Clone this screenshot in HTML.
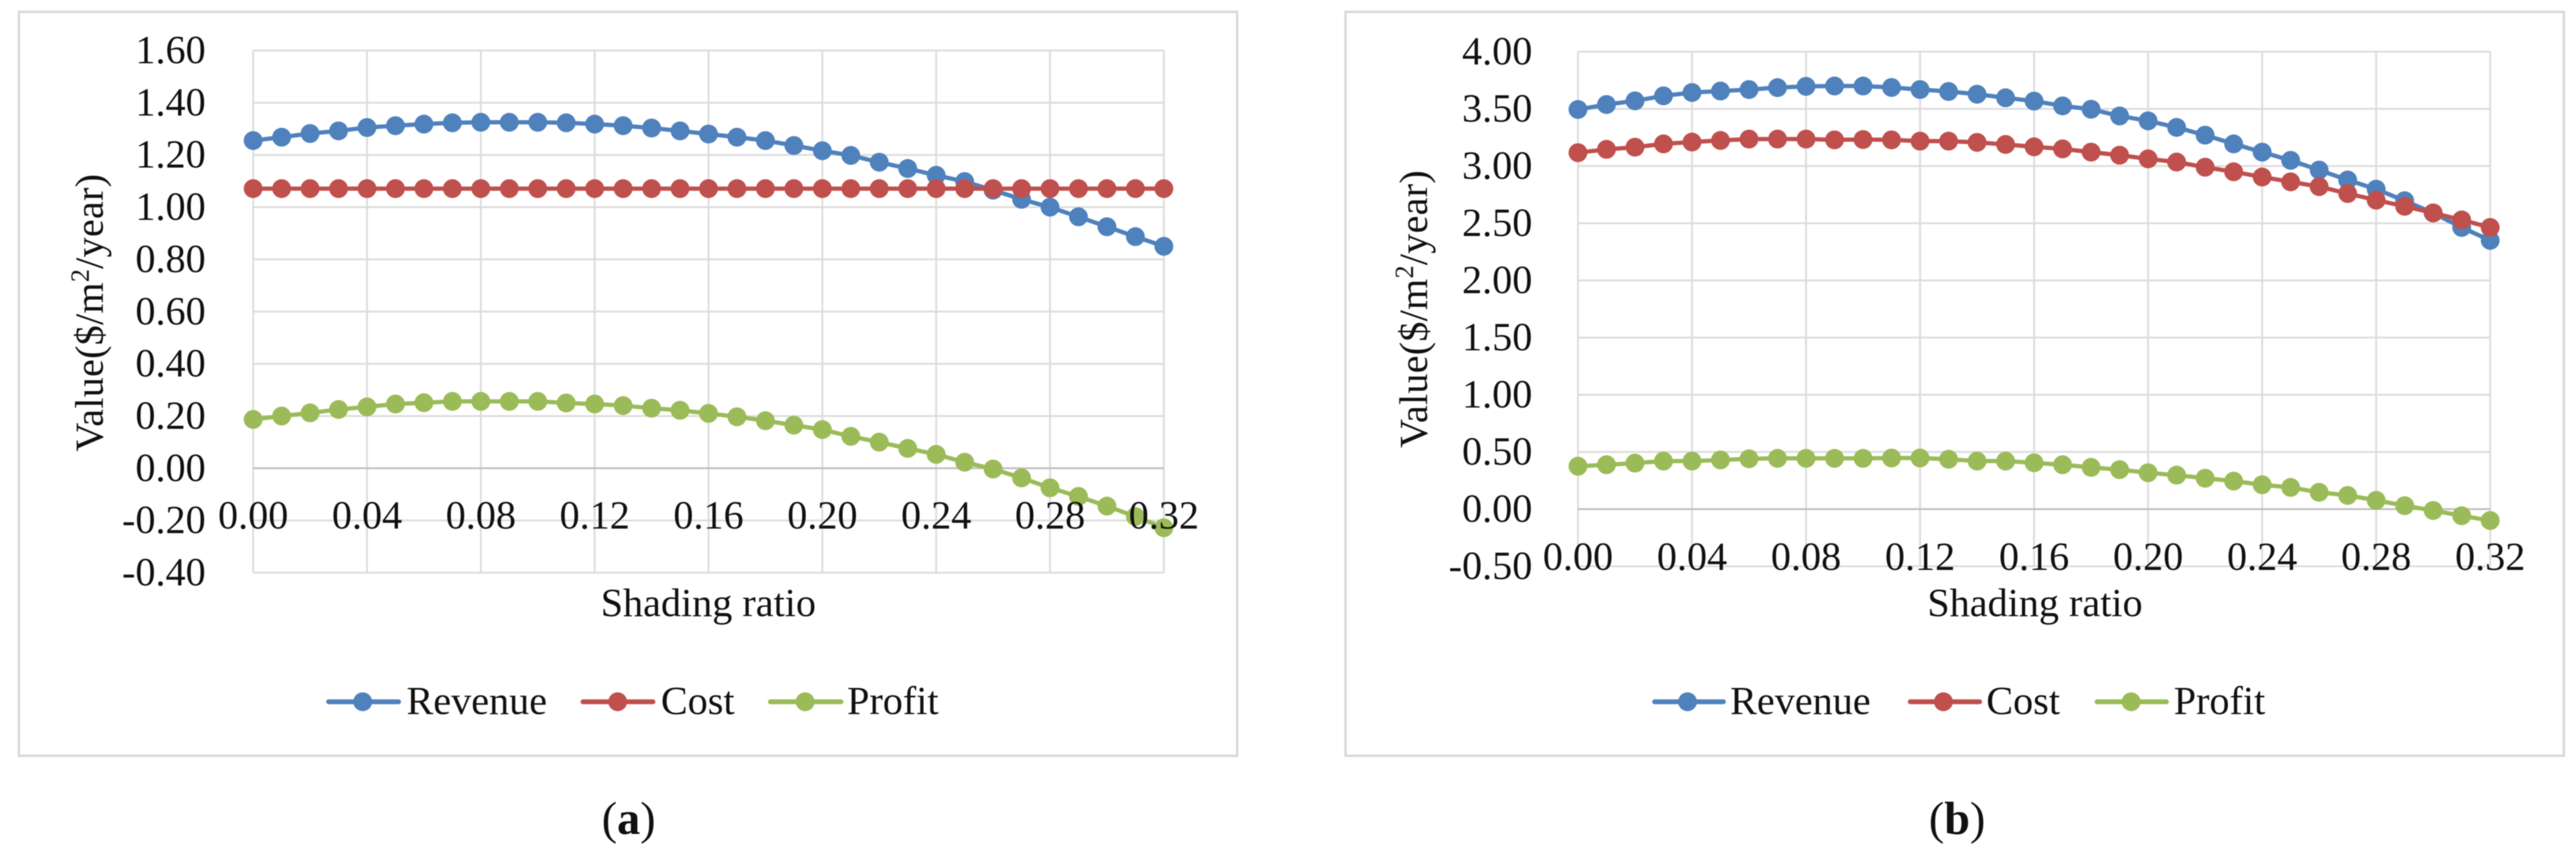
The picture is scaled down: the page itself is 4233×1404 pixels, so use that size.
<!DOCTYPE html>
<html lang="en">
<head>
<meta charset="utf-8">
<title>Revenue, cost and profit versus shading ratio</title>
<style>
  html, body { margin: 0; padding: 0; background: #ffffff; }
  body { width: 4233px; height: 1404px; overflow: hidden; }
  svg { display: block; filter: blur(0.8px); }
  text { font-family: "Liberation Serif", "Times New Roman", serif; fill: #111111; }
</style>
</head>
<body>
<svg id="figure" xmlns="http://www.w3.org/2000/svg" width="4233" height="1404" viewBox="0 0 4233 1404">
  <rect x="0" y="0" width="4233" height="1404" fill="#ffffff"/>

  <g id="panel-a">
    <rect x="31" y="19.5" width="2002" height="1223" fill="#ffffff" stroke="#d9d9d9" stroke-width="4"/>
    <g id="plot-a"></g>
    <text transform="translate(169,514) rotate(-90)" text-anchor="middle" font-size="66" letter-spacing="0.4">Value($/m<tspan font-size="43" dy="-23">2</tspan><tspan dy="23">/year)</tspan></text>
    <text x="1164" y="1013" text-anchor="middle" font-size="66">Shading ratio</text>
    <g>
      <g>
        <line x1="540" x2="655" y1="1153.7" y2="1153.7" stroke="#4f81bd" stroke-width="8" stroke-linecap="round"/>
        <circle cx="596" cy="1153.7" r="15.5" fill="#4f81bd"/>
        <text x="668" y="1174" font-size="66">Revenue</text>
      </g>
      <g>
        <line x1="958" x2="1073" y1="1153.7" y2="1153.7" stroke="#c0504d" stroke-width="8" stroke-linecap="round"/>
        <circle cx="1015" cy="1153.7" r="15.5" fill="#c0504d"/>
        <text x="1086" y="1174" font-size="66">Cost</text>
      </g>
      <g>
        <line x1="1266" x2="1382" y1="1153.7" y2="1153.7" stroke="#9bbb59" stroke-width="8" stroke-linecap="round"/>
        <circle cx="1323" cy="1153.7" r="15.5" fill="#9bbb59"/>
        <text x="1392" y="1174" font-size="66">Profit</text>
      </g>
    </g>
    <text x="1033" y="1371" text-anchor="middle" font-size="76">(<tspan font-weight="bold">a</tspan>)</text>
  </g>

  <g id="panel-b">
    <rect x="2211" y="19.5" width="2002" height="1223" fill="#ffffff" stroke="#d9d9d9" stroke-width="4"/>
    <g id="plot-b"></g>
    <text transform="translate(2345,508) rotate(-90)" text-anchor="middle" font-size="66" letter-spacing="0.4">Value($/m<tspan font-size="43" dy="-23">2</tspan><tspan dy="23">/year)</tspan></text>
    <text x="3344" y="1013" text-anchor="middle" font-size="66">Shading ratio</text>
    <g>
      <g>
        <line x1="2719" x2="2832" y1="1153.7" y2="1153.7" stroke="#4f81bd" stroke-width="8" stroke-linecap="round"/>
        <circle cx="2773" cy="1153.7" r="15.5" fill="#4f81bd"/>
        <text x="2843" y="1174" font-size="66">Revenue</text>
      </g>
      <g>
        <line x1="3139" x2="3253" y1="1153.7" y2="1153.7" stroke="#c0504d" stroke-width="8" stroke-linecap="round"/>
        <circle cx="3193.5" cy="1153.7" r="15.5" fill="#c0504d"/>
        <text x="3264" y="1174" font-size="66">Cost</text>
      </g>
      <g>
        <line x1="3446" x2="3560" y1="1153.7" y2="1153.7" stroke="#9bbb59" stroke-width="8" stroke-linecap="round"/>
        <circle cx="3502" cy="1153.7" r="15.5" fill="#9bbb59"/>
        <text x="3572" y="1174" font-size="66">Profit</text>
      </g>
    </g>
    <text x="3216" y="1371" text-anchor="middle" font-size="76">(<tspan font-weight="bold">b</tspan>)</text>
  </g>
</svg>

<script>
// Shared category axis
const shadingRatios = [0.00,0.01,0.02,0.03,0.04,0.05,0.06,0.07,0.08,0.09,0.10,0.11,0.12,0.13,0.14,0.15,0.16,0.17,0.18,0.19,0.20,0.21,0.22,0.23,0.24,0.25,0.26,0.27,0.28,0.29,0.30,0.31,0.32];
const xTickLabels = ["0.00","0.04","0.08","0.12","0.16","0.20","0.24","0.28","0.32"];

// Chart (a)
const yTickLabelsA = ["1.60","1.40","1.20","1.00","0.80","0.60","0.40","0.20","0.00","-0.20","-0.40"];
const revenueA = [1.255,1.268,1.282,1.292,1.305,1.312,1.318,1.323,1.325,1.325,1.325,1.323,1.318,1.312,1.303,1.292,1.280,1.268,1.255,1.236,1.216,1.198,1.172,1.148,1.122,1.098,1.065,1.030,1.000,0.963,0.925,0.887,0.850];
const costA = [1.071,1.071,1.071,1.071,1.071,1.071,1.071,1.071,1.071,1.071,1.071,1.071,1.071,1.071,1.071,1.071,1.071,1.071,1.071,1.071,1.071,1.071,1.071,1.071,1.071,1.071,1.071,1.071,1.071,1.071,1.071,1.071,1.071];
const profitA = [0.187,0.200,0.212,0.225,0.235,0.246,0.251,0.256,0.256,0.256,0.256,0.250,0.246,0.240,0.230,0.222,0.210,0.197,0.182,0.165,0.148,0.122,0.100,0.076,0.053,0.023,-0.003,-0.037,-0.075,-0.108,-0.145,-0.185,-0.228];

// Chart (b)
const yTickLabelsB = ["4.00","3.50","3.00","2.50","2.00","1.50","1.00","0.50","0.00","-0.50"];
const revenueB = [3.495,3.538,3.570,3.614,3.643,3.656,3.669,3.686,3.697,3.700,3.700,3.687,3.669,3.652,3.628,3.597,3.568,3.526,3.497,3.438,3.395,3.338,3.270,3.194,3.122,3.050,2.965,2.878,2.798,2.697,2.590,2.463,2.350];
const costB = [3.117,3.146,3.165,3.194,3.210,3.224,3.236,3.236,3.236,3.229,3.232,3.229,3.218,3.218,3.207,3.189,3.168,3.150,3.122,3.095,3.063,3.035,2.990,2.950,2.904,2.862,2.820,2.760,2.702,2.648,2.590,2.529,2.463];
const profitB = [0.375,0.388,0.402,0.420,0.420,0.430,0.440,0.444,0.444,0.444,0.444,0.447,0.447,0.436,0.420,0.420,0.405,0.388,0.365,0.345,0.318,0.297,0.270,0.245,0.213,0.190,0.147,0.120,0.077,0.030,-0.012,-0.058,-0.100];

const SVG_NS = 'http://www.w3.org/2000/svg';

function make(tag, parent, attrs) {
  const el = document.createElementNS(SVG_NS, tag);
  for (const k in attrs) el.setAttribute(k, attrs[k]);
  parent.appendChild(el);
  return el;
}

function drawChart(rootId, box, yLabels, seriesList) {
  const root = document.getElementById(rootId);
  const yNums = yLabels.map(Number);
  const yMax = Math.max(...yNums), yMin = Math.min(...yNums);
  const xNums = xTickLabels.map(Number);
  const xMin = Math.min(...xNums), xMax = Math.max(...xNums);
  const xScale = v => box.left + (v - xMin) / (xMax - xMin) * (box.right - box.left);
  const yScale = v => box.top + (yMax - v) / (yMax - yMin) * (box.bottom - box.top);

  // Gridlines
  const grid = make('g', root, {});
  
  
  xNums.forEach(v => {
    const line = make('line', grid, { x1: xScale(v), x2: xScale(v), y1: box.top, y2: box.bottom, stroke: '#dcdcdc', 'stroke-width': 3 });
    
    
  });
  yNums.forEach(v => {
    const line = make('line', grid, { x1: box.left, x2: box.right, y1: yScale(v), y2: yScale(v), stroke: v === 0 ? '#bfbfbf' : '#dcdcdc', 'stroke-width': 3 });
    
    
  });

  // Series
  seriesList.forEach(s => {
    const g = make('g', root, {});
    
    
    const pts = s.values.map((v, i) => xScale(shadingRatios[i]).toFixed(1) + ',' + yScale(v).toFixed(1)).join(' ');
    const poly = make('polyline', g, { points: pts, fill: 'none', stroke: s.color, 'stroke-width': 7, 'stroke-linejoin': 'round' });
    
    
    s.values.forEach((v, i) => {
      const c = make('circle', g, { cx: xScale(shadingRatios[i]), cy: yScale(v), r: 15.5, fill: s.color });
      
      
    });
  });

  // Tick labels (drawn above the series, as in the reference)
  const yLabelGroup = make('g', root, {});
  
  
  yLabels.forEach(label => {
    const t = make('text', yLabelGroup, { x: box.yLabelRight, y: yScale(Number(label)) + 21, 'text-anchor': 'end', 'font-size': 66 });
    
    
    t.textContent = label;
  });
  const xLabelGroup = make('g', root, {});
  
  
  xTickLabels.forEach(label => {
    const t = make('text', xLabelGroup, { x: xScale(Number(label)), y: box.xLabelBaseline, 'text-anchor': 'middle', 'font-size': 66 });
    
    
    t.textContent = label;
  });
}

drawChart('plot-a',
  { left: 416, right: 1912.5, top: 83, bottom: 941.5, yLabelRight: 338, xLabelBaseline: 869 },
  yTickLabelsA,
  [
    { name: 'revenue', color: '#4f81bd', values: revenueA },
    { name: 'cost', color: '#c0504d', values: costA },
    { name: 'profit', color: '#9bbb59', values: profitA }
  ]);

drawChart('plot-b',
  { left: 2593, right: 4092, top: 85, bottom: 931, yLabelRight: 2518, xLabelBaseline: 937 },
  yTickLabelsB,
  [
    { name: 'revenue', color: '#4f81bd', values: revenueB },
    { name: 'cost', color: '#c0504d', values: costB },
    { name: 'profit', color: '#9bbb59', values: profitB }
  ]);
</script>
</body>
</html>
